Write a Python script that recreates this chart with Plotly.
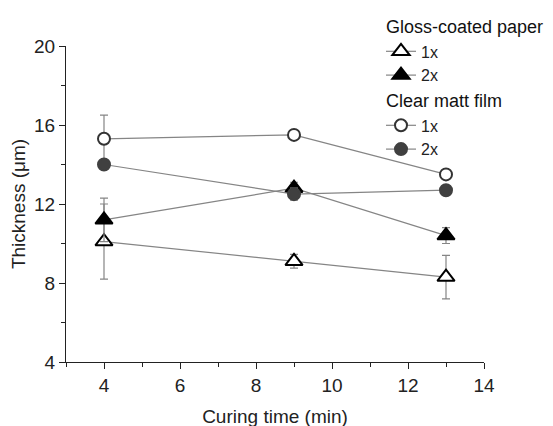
import plotly.graph_objects as go

curing_time = [4, 9, 13]

gloss_1x = [10.1, 9.1, 8.3]
gloss_1x_err = [1.9, 0.35, 1.1]
gloss_2x = [11.2, 12.8, 10.4]
gloss_2x_err = [1.1, 0.3, 0.4]

film_1x = [15.3, 15.5, 13.5]
film_1x_err = [1.2, 0.0, 0.0]
film_2x = [14.0, 12.5, 12.7]
film_2x_err = [0.0, 0.3, 0.0]

FONT = "Liberation Sans, Arial, sans-serif"
LINE = "#858585"
ERR = "#858585"

fig = go.Figure()

def add(y, err, name, group, symbol, fill, edge, size, gtitle=None):
    fig.add_trace(go.Scatter(
        x=curing_time, y=y, name=name, mode="lines+markers",
        legendgroup=group,
        legendgrouptitle=dict(text=gtitle, font=dict(size=18, color="#111", family=FONT)) if gtitle else None,
        line=dict(color=LINE, width=1.2),
        marker=dict(symbol=symbol, size=size, color=fill, line=dict(color=edge, width=2)),
        error_y=dict(type="data", array=err, visible=True, color=ERR, thickness=1.2, width=4),
    ))

add(gloss_1x, gloss_1x_err, "1x", "gloss", "triangle-up", "white", "#000", 15, "Gloss-coated paper")
add(gloss_2x, gloss_2x_err, "2x", "gloss", "triangle-up", "#000", "#000", 15, "Gloss-coated paper")
add(film_1x, film_1x_err, "1x", "film", "circle", "white", "#333", 12, "Clear matt film")
add(film_2x, film_2x_err, "2x", "film", "circle", "#404040", "#404040", 12, "Clear matt film")

axis_common = dict(
    showgrid=False, zeroline=False, showline=True, linecolor="#222", linewidth=1.2,
    ticks="outside", ticklen=6, tickcolor="#222", tickwidth=1.2,
    tickfont=dict(size=19, color="#222", family=FONT),
    mirror=False, automargin=False,
)

fig.update_xaxes(range=[3, 14], tick0=4, dtick=2,
                 minor=dict(ticks="outside", dtick=1, tick0=3, ticklen=4, tickcolor="#222"),
                 title=dict(text="Curing time (min)", font=dict(size=19, color="#222", family=FONT), standoff=21),
                 **axis_common)
fig.update_yaxes(range=[4, 20], tick0=4, dtick=4,
                 minor=dict(ticks="outside", dtick=2, tick0=4, ticklen=4, tickcolor="#222"),
                 title=dict(text="Thickness (μm)", font=dict(size=19, color="#222", family=FONT), standoff=5),
                 **axis_common)

fig.update_layout(
    width=553, height=419,
    margin=dict(l=58, r=77, t=38, b=65, autoexpand=False),
    paper_bgcolor="white", plot_bgcolor="white",
    font=dict(family=FONT, size=19, color="#222"),
    legend=dict(x=373 / 553, y=1.012, xref="container", yref="container",
                xanchor="left", yanchor="top",
                bgcolor="rgba(0,0,0,0)", tracegroupgap=0,
                entrywidth=170, entrywidthmode="pixels",
                font=dict(size=16, color="#222", family=FONT), itemwidth=30),
    showlegend=True,
)

fig.write_html("out.html")
